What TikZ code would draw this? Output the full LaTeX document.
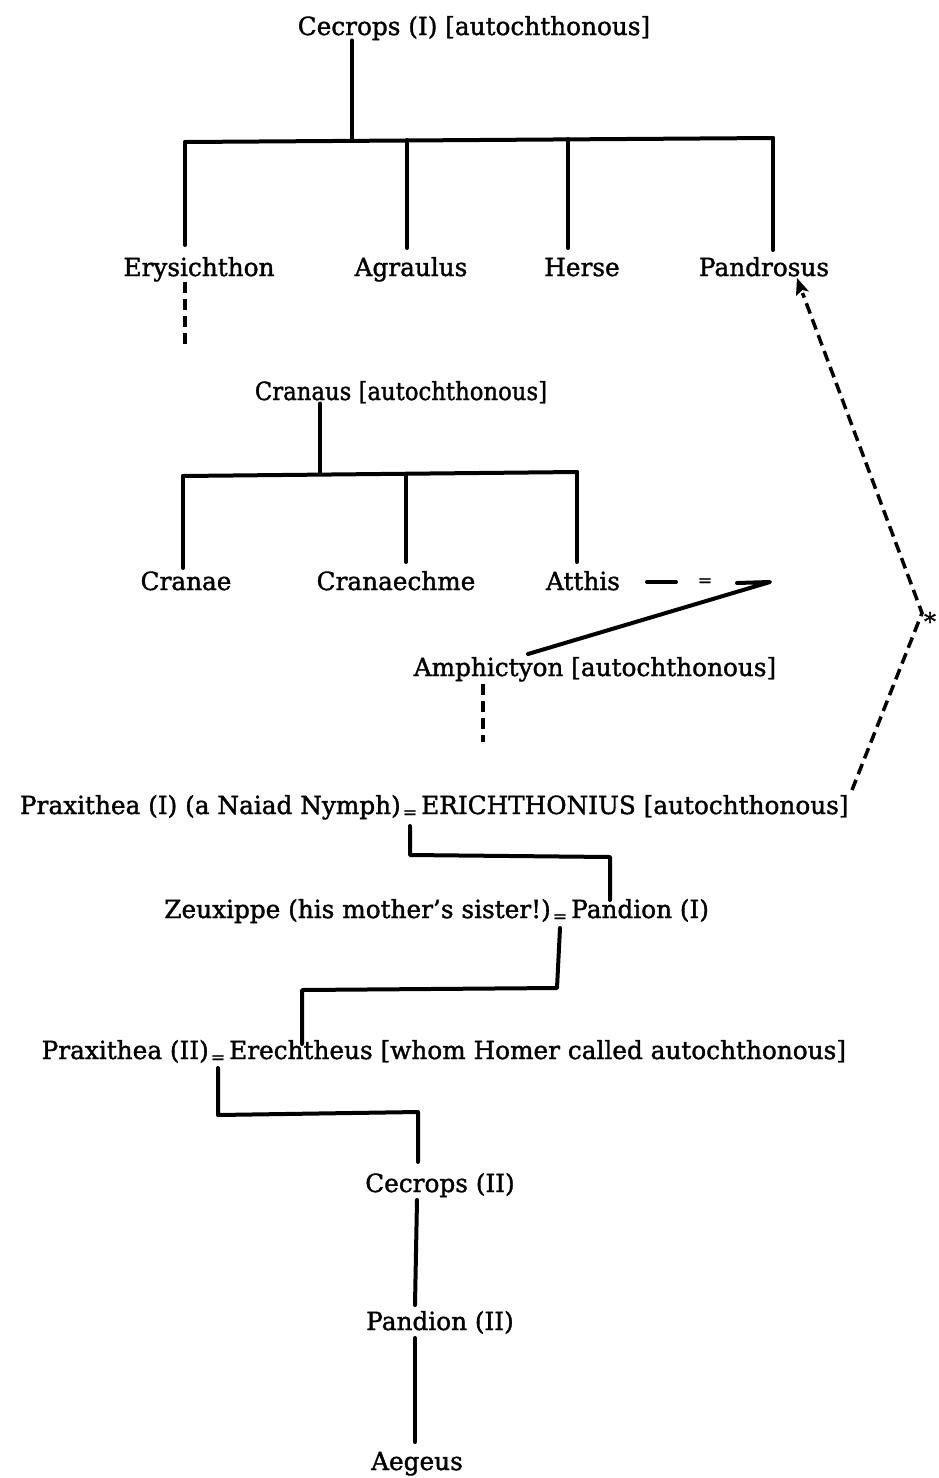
\documentclass[tikz,border=0pt]{standalone}
\usepackage{fontspec}
\setmainfont{DejaVu Serif}[FakeStretch=0.99,FakeBold=1.4]
\usetikzlibrary{arrows.meta,calc}
\begin{document}
\begin{tikzpicture}[x=1pt,y=-1pt,
 lbl/.style={inner sep=0pt, anchor=base, font=\fontsize{25}{30}\selectfont},
 lbll/.style={lbl, anchor=base east},
 lblr/.style={lbl, anchor=base west},
 eqs/.style={inner sep=0pt, anchor=base, font=\fontsize{17}{18}\selectfont},
 tree/.style={line width=4pt, line cap=round, line join=round},
 dsh/.style={line width=3.5pt, dash pattern=on 11pt off 6pt}]
\useasboundingbox (0,0) rectangle (938,1478);
% generation of Cecrops I
\node[lbl] (cec1) at (474,35) {Cecrops (I) [autochthonous]};
\node[lbl] (erys) at (199,276) {Erysichthon};
\node[lbl] (agra) at (411,276) {Agraulus};
\node[lbl] (herse) at (582,276) {Herse};
\node[lbl] (pand) at (764,276) {Pandrosus};
\coordinate (b1m) at (352,140);
\coordinate (b1l) at (185,142);
\coordinate (b1a) at (407,140);
\coordinate (b1h) at (568,139);
\coordinate (b1r) at (773,138);
\draw[tree] (b1m |- cec1.south) -- (b1m);
\draw[tree] (b1l) -- (b1r);
\draw[tree] (b1l) -- (185,245);
\draw[tree] (b1a) -- (407,248);
\draw[tree] (b1h) -- (568,248);
\draw[tree] (b1r) -- (773,250);
\coordinate (erysd) at (185,345);
\draw[dsh] (185,282) -- (erysd);
% Cranaus
\node[lbl, xscale=0.92] (cran) at (401,400) {Cranaus [autochthonous]};
\node[lbl] (crae) at (186,590) {Cranae};
\node[lbl] (crme) at (396,590) {Cranaechme};
\node[lbl] (atth) at (583,590) {Atthis};
\coordinate (b2m) at (320,474);
\coordinate (b2l) at (183,476);
\coordinate (b2c) at (406,474);
\coordinate (b2r) at (577,472);
\draw[tree] (b2m |- cran.south) -- (b2m);
\draw[tree] (b2l) -- (b2r);
\draw[tree] (b2l) -- (183,568);
\draw[tree] (b2c) -- (406,562);
\draw[tree] (b2r) -- (577,562);
% Atthis = Amphictyon
\node[eqs] (ateq) at (705,586) {=};
\node[lbl] (amph) at (595,676) {Amphictyon [autochthonous]};
\coordinate (ata) at (647,582);
\coordinate (atb) at (676,582);
\coordinate (atc) at (737,583);
\coordinate (atk) at (770,582);
\coordinate (ate) at (528,654);
\draw[tree] (ata) -- (atb);
\draw[tree] (atc) -- (atk) -- (ate);
\coordinate (amphd) at (483,742);
\draw[dsh] (483,684) -- (amphd);
% Praxithea I = Erichthonius
\node[lbll] (prax1) at (401,814) {Praxithea (I) (a Naiad Nymph)};
\node[eqs] (eq1) at (410,818) {=};
\node[lblr] (erich) at (421,814) {ERICHTHONIUS [autochthonous]};
% Zeuxippe = Pandion I
\node[lbll] (zeux) at (551,918) {Zeuxippe (his mother's sister!)};
\node[eqs] (eq2) at (560,922) {=};
\node[lblr] (pan1) at (571,918) {Pandion (I)};
\coordinate (c1a) at (410,855);
\coordinate (c1b) at (610,857);
\draw[tree] (410,826) -- (c1a) -- (c1b) -- (610,900);
\coordinate (c2a) at (557,988);
\coordinate (c2b) at (302,990);
\draw[tree] (560,928) -- (c2a) -- (c2b) -- (302,1044);
% Praxithea II = Erechtheus
\node[lbll] (prax2) at (209,1059) {Praxithea (II)};
\node[eqs] (eq3) at (218,1063) {=};
\node[lblr] (erech) at (229,1059) {Erechtheus [whom Homer called autochthonous]};
\coordinate (c3a) at (218,1115);
\coordinate (c3b) at (418,1112);
\draw[tree] (218,1068) -- (c3a) -- (c3b) -- (418,1162);
% descendants
\node[lbl] (cec2) at (440,1192) {Cecrops (II)};
\node[lbl] (pan2) at (440,1330) {Pandion (II)};
\node[lbl] (aeg) at (417,1470) {Aegeus};
\draw[tree] (417,1200) -- (415,1305);
\draw[tree] (415,1338) -- (415,1442);
% dashed arrow to Pandrosus
\coordinate (apex) at (922,613);
\coordinate (tip) at (797,278);
\node[inner sep=0pt, font=\fontsize{24}{26}\selectfont] (ast) at (930,621) {*};
\draw[dsh] (852,790) -- (apex) -- (802.5,293);
\fill (tip) -- (809,291.5) -- (802.5,290) -- (796,296) -- cycle;
\end{tikzpicture}
\end{document}
